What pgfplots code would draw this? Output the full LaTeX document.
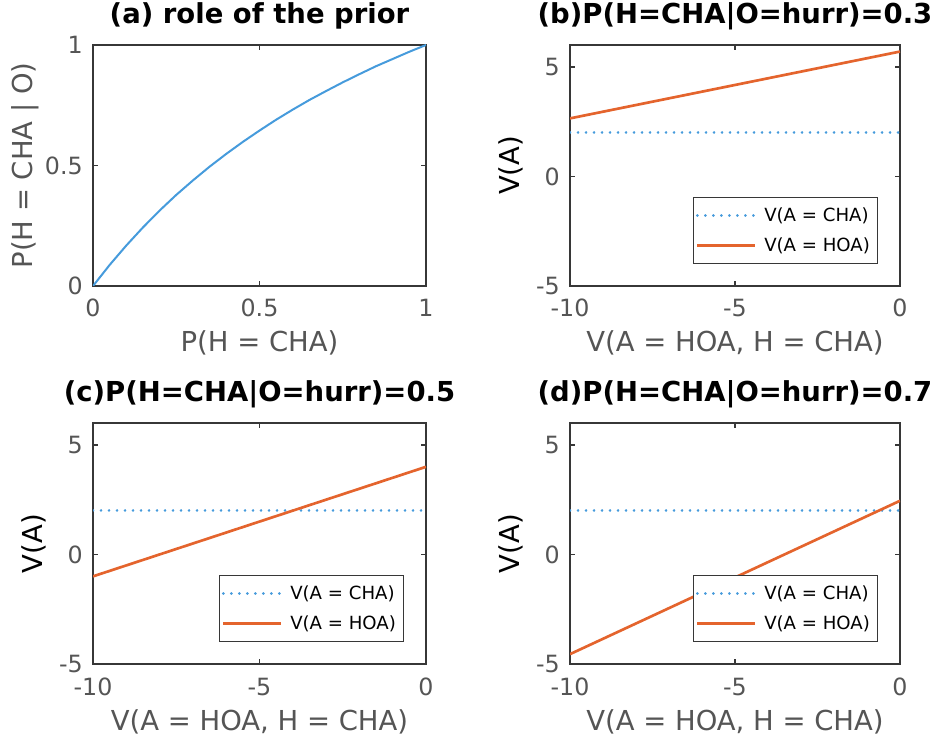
\documentclass[border=0pt]{standalone}
\usepackage{fontspec}
\setmainfont{DejaVu Sans}
\usepackage{pgfplots}
\pgfplotsset{compat=1.18}
\definecolor{mblue}{RGB}{70,155,220}
\definecolor{morange}{RGB}{228,100,45}
\definecolor{tgray}{RGB}{85,85,85}
\definecolor{agray}{RGB}{55,55,55}
\pgfplotsset{
  common/.style={
    scale only axis,
    axis line style={line width=1.3pt, draw=agray},
    tick align=inside,
    major tick length=4pt,
    every tick/.style={line width=1pt, draw=agray},
    ticklabel style={font=\fontsize{17.8}{20}\selectfont, text=tgray},
    /pgf/number format/assume math mode=true,
    xticklabel style={anchor=base, inner sep=0pt, yshift=-23.25pt},
    yticklabel style={anchor=east, inner sep=0pt, xshift=-7.5pt},
    title style={font=\bfseries\fontsize{20.6}{24}\selectfont, text=black, at={(axis description cs:0.5,1)}, anchor=base, yshift=9.75pt, inner sep=0pt},
    xlabel style={font=\fontsize{20.6}{24}\selectfont, text=tgray, at={(axis description cs:0.5,0)}, anchor=base, yshift=-49.5pt, inner sep=0pt},
    ylabel style={font=\fontsize{20.6}{24}\selectfont, anchor=base, inner sep=0pt},
  },
  vplot/.style={
    common,
    xmin=-10, xmax=0, ymin=-5, ymax=6,
    xtick={-10,-5,0}, ytick={-5,0,5},
    xticklabels={-10,-5,0}, yticklabels={-5,0,5},
    xlabel={V(A = HOA, H = CHA)},
    ylabel={V(A)},
    ylabel style={text=black},
    legend image code/.code={\draw[##1] (0pt,0pt) -- (43.5pt,0pt);},
    legend cell align=left,
    legend style={font=\fontsize{13.6}{16}\selectfont, at={(axis description cs:1,0)}, anchor=south east,
      xshift=-16.5pt, yshift=16.5pt, draw=agray, line width=1.1pt, fill=white,
      inner xsep=2pt, inner ysep=5.25pt, row sep=6pt, column sep=2pt,
      nodes={inner xsep=3.5pt, inner ysep=2.25pt, anchor=west},
      column 2/.style={nodes={text width=83pt, align=left}}},
  },
  hline/.style={mblue, line width=2.2pt, line cap=round, dash pattern=on 0.01pt off 5.99pt},
  oline/.style={morange, line width=2pt},
}
\begin{document}
\begin{tikzpicture}
\useasboundingbox (0,0) rectangle (703.5pt,552pt);
% (a)
\begin{axis}[common, at={(69.75pt,337.5pt)}, anchor=south west, width=249.75pt, height=180.75pt,
  xmin=0, xmax=1, ymin=0, ymax=1, xtick={0,0.5,1}, ytick={0,0.5,1},
  xticklabels={0,0.5,1}, yticklabels={0,0.5,1},
  title={(a) role of the prior}, xlabel={P(H = CHA)}, ylabel={P(H = CHA | O)},
  ylabel style={text=tgray, at={(axis description cs:-0.1802,0.5)}}]
\addplot[mblue, line width=1.5pt] coordinates {
(0,0) (0.05,0.0874) (0.1,0.168) (0.15,0.243) (0.2,0.313) (0.25,0.378) (0.3,0.438)
(0.35,0.495) (0.4,0.548) (0.45,0.598) (0.5,0.645) (0.55,0.690) (0.6,0.732) (0.65,0.772)
(0.7,0.809) (0.75,0.845) (0.8,0.879) (0.85,0.912) (0.9,0.942) (0.95,0.972) (1,1)};
\end{axis}
% (b)
\begin{axis}[vplot, at={(427.5pt,337.5pt)}, anchor=south west, width=247.5pt, height=180.75pt,
  title={(b)P(H=CHA|O=hurr)=0.3}, ylabel style={at={(axis description cs:-0.1545,0.5)}}]
\addplot[hline] coordinates {(-10,2) (0,2)};
\addlegendentry{V(A = CHA)}
\addplot[oline] coordinates {(-10,2.65) (-8,3.26) (-6,3.87) (-4,4.48) (-2,5.09) (0,5.70)};
\addlegendentry{V(A = HOA)}
\end{axis}
% (c)
\begin{axis}[vplot, at={(69.75pt,54pt)}, anchor=south west, width=249.75pt, height=180.75pt,
  title={(c)P(H=CHA|O=hurr)=0.5}, ylabel style={at={(axis description cs:-0.153,0.5)}}]
\addplot[hline] coordinates {(-10,2) (0,2)};
\addlegendentry{V(A = CHA)}
\addplot[oline] coordinates {(-10,-1.0) (-8,0.0) (-6,1.0) (-4,2.0) (-2,3.0) (0,4.0)};
\addlegendentry{V(A = HOA)}
\end{axis}
% (d)
\begin{axis}[vplot, at={(427.5pt,54pt)}, anchor=south west, width=247.5pt, height=180.75pt,
  title={(d)P(H=CHA|O=hurr)=0.7}, ylabel style={at={(axis description cs:-0.1545,0.5)}}]
\addplot[hline] coordinates {(-10,2) (0,2)};
\addlegendentry{V(A = CHA)}
\addplot[oline] coordinates {(-10,-4.55) (-8,-3.15) (-6,-1.75) (-4,-0.35) (-2,1.05) (0,2.45)};
\addlegendentry{V(A = HOA)}
\end{axis}
\end{tikzpicture}
\end{document}
